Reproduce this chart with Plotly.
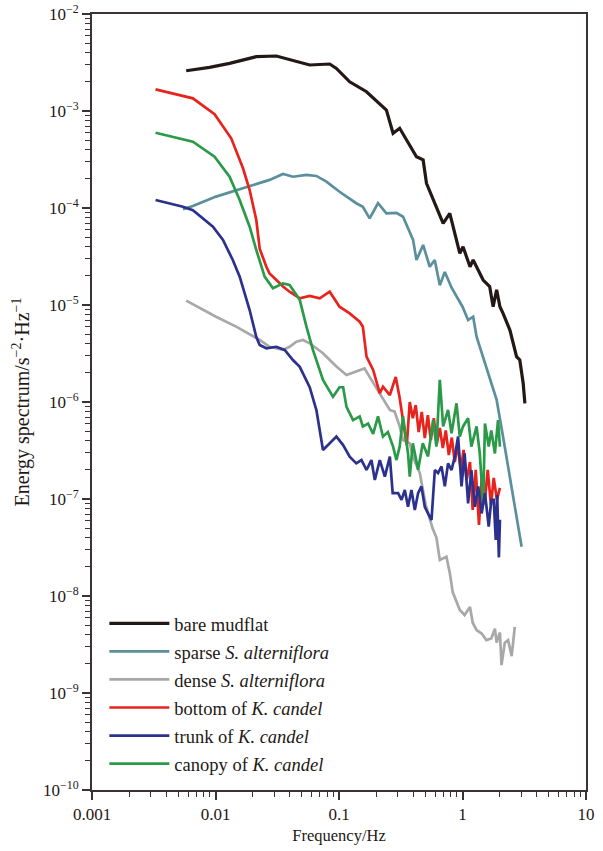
import plotly.graph_objects as go

# ---------------- data (frequency in Hz, energy spectrum in s^-2·Hz^-1) ----------------
bare_f = [0.00579, 0.00895, 0.0130, 0.0214, 0.0311, 0.0398, 0.0579, 0.0841, 0.0953, 0.122,
          0.167, 0.242, 0.274, 0.310, 0.424, 0.480, 0.511, 0.697, 0.789, 0.951,
          1.01, 1.15, 1.22, 1.47, 1.66, 1.77, 1.89, 2.01, 2.13, 2.42, 2.74, 2.91, 3.10, 3.20]
bare_E = [2.60e-3, 2.82e-3, 3.10e-3, 3.63e-3, 3.69e-3, 3.41e-3, 2.98e-3, 3.05e-3, 2.75e-3, 2.0e-3,
          1.58e-3, 1.02e-3, 5.89e-4, 6.64e-4, 3.38e-4, 3.13e-4, 1.80e-4, 6.95e-5, 8.81e-5, 3.41e-5,
          3.99e-5, 2.48e-5, 2.91e-5, 1.81e-5, 1.55e-5, 9.6e-6, 1.43e-5, 9.6e-6, 8.2e-6, 5.52e-6,
          2.93e-6, 2.71e-6, 1.56e-6, 9.7e-7]

sparse_f = [0.00545, 0.00656, 0.0101, 0.0189, 0.0274, 0.0352, 0.0424, 0.0545, 0.0656, 0.0791,
            0.101, 0.138, 0.156, 0.177, 0.207, 0.242, 0.292, 0.330, 0.398, 0.424,
            0.480, 0.543, 0.596, 0.655, 0.719, 0.818, 1.0, 1.11, 1.22, 1.30,
            1.47, 1.66, 1.89, 2.13, 2.42, 2.74, 3.01]
sparse_E = [9.7e-5, 1.05e-4, 1.31e-4, 1.69e-4, 1.95e-4, 2.24e-4, 2.10e-4, 2.19e-4, 2.14e-4, 1.87e-4,
            1.47e-4, 1.12e-4, 1.03e-4, 7.83e-5, 1.12e-4, 8.81e-5, 8.9e-5, 8.13e-5, 4.68e-5, 2.91e-5,
            4.16e-5, 2.48e-5, 2.91e-5, 1.6e-5, 2.19e-5, 1.5e-5, 9.6e-6, 7.0e-6, 7.57e-6, 4.71e-6,
            2.93e-6, 1.82e-6, 1.05e-6, 4.39e-7, 1.70e-7, 6.58e-8, 3.22e-8]

dense_f = [0.00579, 0.0101, 0.0147, 0.0228, 0.0274, 0.0352, 0.0398, 0.0452, 0.0511, 0.0579,
           0.0742, 0.0953, 0.115, 0.138, 0.161, 0.183, 0.214, 0.258, 0.282, 0.310,
           0.330, 0.374, 0.396, 0.451, 0.504, 0.533, 0.572, 0.615, 0.655, 0.741,
           0.789, 0.834, 0.951, 1.04, 1.15, 1.21, 1.30, 1.43, 1.56, 1.71,
           1.83, 1.89, 2.01, 2.07, 2.20, 2.34, 2.50, 2.65]
dense_E = [1.11e-5, 7.57e-6, 5.98e-6, 4.36e-6, 3.71e-6, 3.44e-6, 3.71e-6, 4.18e-6, 4.36e-6, 4.03e-6,
           3.18e-6, 2.32e-6, 1.90e-6, 2.05e-6, 2.22e-6, 1.69e-6, 1.23e-6, 8.27e-7, 7.95e-7, 5.6e-7,
           4.06e-7, 3.75e-7, 2.73e-7, 1.85e-7, 8.7e-8, 6.84e-8, 5.0e-8, 4.0e-8, 2.35e-8, 2.54e-8,
           1.73e-8, 1.09e-8, 7.17e-9, 6.37e-9, 7.7e-9, 5.3e-9, 4.46e-9, 4.1e-9, 3.51e-9, 3.65e-9,
           4.6e-9, 3.3e-9, 4.2e-9, 1.94e-9, 3.3e-9, 3.51e-9, 2.4e-9, 4.8e-9]

bottom_f = [0.00327, 0.00656, 0.00983, 0.0134, 0.0167, 0.0189, 0.0214, 0.0228, 0.0258, 0.0274,
            0.0311, 0.0352, 0.0398, 0.0481, 0.0579, 0.0698, 0.0841, 0.101, 0.122, 0.147,
            0.156, 0.161, 0.167, 0.189, 0.214, 0.227,
            0.258, 0.288, 0.310, 0.334, 0.354, 0.374, 0.396, 0.418, 0.442, 0.468,
            0.495, 0.524, 0.554, 0.586, 0.619, 0.655, 0.693, 0.732, 0.775, 0.819,
            0.866, 0.916, 0.969, 1.02, 1.08, 1.15, 1.21, 1.28, 1.36, 1.43,
            1.52, 1.60, 1.70, 1.79, 1.90, 2.01]
bottom_E = [1.67e-3, 1.35e-3, 9.25e-4, 5.23e-4, 2.57e-4, 1.53e-4, 7.52e-5, 3.8e-5, 2.48e-5, 2.12e-5,
            1.81e-5, 1.55e-5, 1.37e-5, 1.17e-5, 1.24e-5, 1.17e-5, 1.37e-5, 9.6e-6, 8.2e-6, 6.73e-6,
            5.98e-6, 4.06e-6, 2.93e-6, 2.14e-6, 1.23e-6, 1.44e-6,
            1.18e-6, 1.81e-6, 1.10e-6, 5.79e-7, 3.60e-7, 1.0e-6, 6.8e-7, 9.3e-7, 4.9e-7, 7.9e-7,
            4.25e-7, 7.3e-7, 4.06e-7, 6.8e-7, 3.7e-7, 5.4e-7, 3.35e-7, 5.1e-7, 2.84e-7, 4.3e-7,
            2.4e-7, 3.6e-7, 2.0e-7, 3.2e-7, 1.57e-7, 2.4e-7, 7.7e-8, 2.0e-7, 5.4e-8, 1.65e-7,
            9.8e-8, 2.0e-7, 8.7e-8, 1.65e-7, 9.8e-8, 1.3e-7]

trunk_f = [0.00327, 0.00545, 0.00656, 0.00953, 0.0115, 0.0138, 0.0157, 0.0189, 0.0214, 0.0228,
           0.0258, 0.0311, 0.0363, 0.0424, 0.0481, 0.0579, 0.0656, 0.0742, 0.0841, 0.0953,
           0.108, 0.122, 0.138, 0.152, 0.167, 0.183, 0.195, 0.214, 0.235, 0.258,
           0.272, 0.301, 0.321, 0.341, 0.362, 0.386, 0.411, 0.437, 0.465, 0.495,
           0.526, 0.561, 0.597, 0.634, 0.676, 0.719, 0.764, 0.815, 0.866, 0.921,
           0.982, 1.04, 1.11, 1.18, 1.26, 1.34, 1.43, 1.52, 1.63, 1.71,
           1.79, 1.86, 1.91, 1.97, 2.01]
trunk_E = [1.21e-4, 1.03e-4, 9.5e-5, 6.41e-5, 4.68e-5, 2.91e-5, 1.96e-5, 8.88e-6, 4.67e-6, 3.87e-6,
           3.58e-6, 3.71e-6, 3.44e-6, 2.71e-6, 2.3e-6, 1.42e-6, 8.27e-7, 3.2e-7, 3.75e-7, 4.4e-7,
           3.6e-7, 2.73e-7, 2.33e-7, 2.52e-7, 1.99e-7, 2.52e-7, 1.57e-7, 2.52e-7, 1.70e-7, 2.73e-7,
           1.15e-7, 1.15e-7, 9.8e-8, 1.24e-7, 8.3e-8, 1.24e-7, 7.7e-8, 1.15e-7, 1.35e-7, 8.3e-8,
           7.1e-8, 6.07e-8, 1.99e-7, 1.85e-7, 2.17e-7, 1.35e-7, 2.33e-7, 1.99e-7, 2.73e-7, 4.4e-7,
           1.35e-7, 2.95e-7, 9.0e-8, 1.99e-7, 8.3e-8, 1.35e-7, 7.1e-8, 1.15e-7, 5.2e-8, 9.8e-8,
           9.8e-8, 3.78e-8, 1.1e-7, 2.5e-8, 6.1e-8]

canopy_f = [0.00327, 0.00656, 0.00983, 0.0130, 0.0157, 0.0189, 0.0214, 0.0250, 0.0292, 0.0352,
            0.0398, 0.0481, 0.0545, 0.0615, 0.0742, 0.0894, 0.101, 0.108, 0.115, 0.130,
            0.147, 0.156, 0.172, 0.189, 0.207, 0.227, 0.249, 0.274, 0.292, 0.310,
            0.330, 0.362, 0.374, 0.396, 0.437, 0.477, 0.526, 0.578, 0.615, 0.655,
            0.697, 0.764, 0.815, 0.894, 0.951, 1.01, 1.11, 1.18, 1.30, 1.38,
            1.47, 1.52, 1.63, 1.71, 1.83, 1.94, 2.01]
canopy_E = [5.97e-4, 4.83e-4, 3.38e-4, 2.10e-4, 1.21e-4, 6.41e-5, 3.69e-5, 1.96e-5, 1.49e-5, 1.67e-5,
            1.61e-5, 1.13e-5, 5.98e-6, 3.44e-6, 1.69e-6, 1.13e-6, 1.42e-6, 1.42e-6, 8.9e-7, 6.5e-7,
            7.1e-7, 5.6e-7, 6.0e-7, 4.7e-7, 7.1e-7, 4.4e-7, 4.9e-7, 3.47e-7, 2.52e-7, 3.47e-7,
            7.1e-7, 2.95e-7, 1.7e-7, 3.75e-7, 2.0e-7, 3.75e-7, 2.75e-7, 6.5e-7, 3.47e-7, 1.69e-6,
            5.6e-7, 8.3e-7, 4.75e-7, 9.7e-7, 4.4e-7, 5.6e-7, 6.8e-7, 3.47e-7, 5.6e-7, 2.95e-7,
            8.7e-8, 6.0e-7, 3.47e-7, 5.1e-7, 2.95e-7, 6.5e-7, 3.47e-7]

series_names = ["bare mudflat", "sparse <i>S. alterniflora</i>", "dense <i>S. alterniflora</i>",
                "bottom of <i>K. candel</i>", "trunk of <i>K. candel</i>", "canopy of <i>K. candel</i>"]

x_tick_vals = [0.001, 0.01, 0.1, 1, 10]
x_tick_text = ["0.001", "0.01", "0.1", "1", "10"]
y_exponents = [-10, -9, -8, -7, -6, -5, -4, -3, -2]

# ---------------- figure ----------------
AX = "#3b3333"
TXT = "#231815"
colors = ["#231815", "#5a8f9b", "#a8a8a8", "#e8231d", "#2b318c", "#2a9a48"]
widths = [3.2, 2.7, 2.7, 2.7, 2.7, 2.7]
data = [(bare_f, bare_E), (sparse_f, sparse_E), (dense_f, dense_E),
        (bottom_f, bottom_E), (trunk_f, trunk_E), (canopy_f, canopy_E)]
draw_order = [0, 1, 2, 3, 5, 4]

fig = go.Figure()
for i in draw_order:
    f, E = data[i]
    fig.add_trace(go.Scatter(
        x=f, y=E, mode="lines", name=series_names[i],
        line=dict(color=colors[i], width=widths[i]),
        legendrank=i + 1, legendgroup=str(i),
    ))

y_tick_vals = [10.0 ** k for k in y_exponents]
y_tick_text = ["10<sup>−%d</sup>" % (-k) for k in y_exponents]
x_minor = [m * 10.0 ** n for n in range(-3, 1) for m in range(2, 10)]
y_minor = [m * 10.0 ** n for n in range(-10, -2) for m in range(2, 10)]

axis_common = dict(
    type="log", showgrid=False, zeroline=False, automargin=False,
    showline=True, linecolor=AX, linewidth=2, mirror=True,
    ticks="outside", ticklen=8, tickwidth=1.6, tickcolor=AX,
    tickfont=dict(family="Liberation Serif", size=17, color=TXT),
)

fig.update_layout(
    width=603, height=851,
    margin=dict(l=92, r=17, t=14, b=61),
    paper_bgcolor="white", plot_bgcolor="white",
    font=dict(family="Liberation Serif", size=16, color=TXT),
    showlegend=True,
    legend=dict(x=0.025, y=0.2386, xanchor="left", yanchor="top",
                bgcolor="rgba(0,0,0,0)", font=dict(size=18.5, family="Liberation Serif", color=TXT),
                tracegroupgap=1, itemwidth=60),
    xaxis=dict(**axis_common, range=[-3, 1], tickvals=x_tick_vals, ticktext=x_tick_text,
               minor=dict(tickvals=x_minor, ticks="outside", ticklen=5, tickwidth=1.4,
                          tickcolor=AX, showgrid=False),
               title=dict(text="Frequency/Hz", font=dict(size=16.5), standoff=6)),
    yaxis=dict(**axis_common, range=[-10, -2], tickvals=y_tick_vals, ticktext=y_tick_text,
               minor=dict(tickvals=y_minor, ticks="outside", ticklen=5, tickwidth=1.4,
                          tickcolor=AX, showgrid=False),
               title=dict(text="Energy spectrum/s<sup>−2</sup>·Hz<sup>−1</sup>",
                          font=dict(size=20), standoff=8)),
)

fig.write_html("out.html")
